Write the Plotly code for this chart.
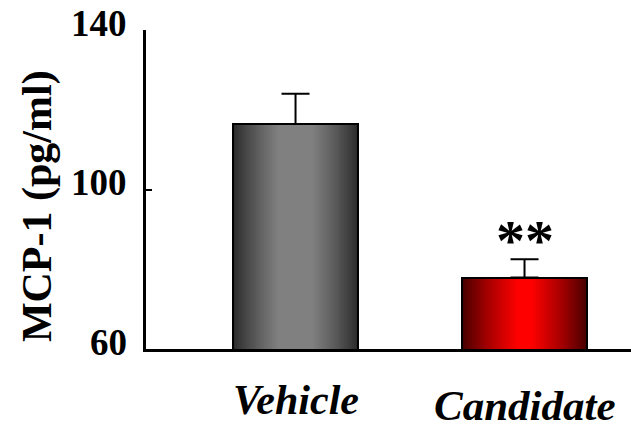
import plotly.graph_objects as go

categories = ["Vehicle", "Candidate"]
means = [116.4, 77.9]
errors = [7.6, 4.6]
y_ticks = [60, 100, 140]
y_label = "MCP-1 (pg/ml)"
significance = ["", "**"]

edge_colors = [(43, 43, 43), (70, 0, 0)]
center_colors = [(128, 128, 128), (255, 0, 0)]
plateau = [1.35, 1.1]
label_sizes = [42, 43]
label_y = [-0.16, -0.178]

BAR_W = 0.546
N = 32

fig = go.Figure()

def mix(a, b, t):
    return "rgb(%d,%d,%d)" % tuple(round(a[k] + (b[k] - a[k]) * t) for k in range(3))

for i in range(N):
    t = i / (N - 1)
    cols = []
    for j in range(2):
        tt = min(1.0, t * plateau[j]) ** 0.85
        cols.append(mix(edge_colors[j], center_colors[j], tt))
    fig.add_trace(go.Bar(
        x=categories, y=means,
        width=[BAR_W * (1 - i / N)] * 2,
        marker=dict(color=cols, line=dict(width=0)),
        showlegend=False, hoverinfo="skip",
    ))

fig.add_trace(go.Bar(
    x=categories, y=means, width=[BAR_W] * 2,
    marker=dict(color="rgba(0,0,0,0)", line=dict(color="black", width=2)),
    error_y=dict(type="data", symmetric=False, array=errors, arrayminus=[0, 0],
                 color="black", thickness=2, width=14),
    showlegend=False,
))

for j, c in enumerate(categories):
    fig.add_annotation(x=c, xref="x", y=label_y[j], yref="paper", text=c,
                       showarrow=False, yanchor="middle",
                       font=dict(family="Liberation Serif", size=label_sizes[j],
                                 color="black", weight="bold", style="italic"))
    if significance[j]:
        fig.add_annotation(x=c, xref="x", y=means[j] + errors[j], yref="y",
                           text=significance[j], showarrow=False, yanchor="bottom",
                           yshift=-16,
                           font=dict(family="Liberation Serif", size=58, color="black",
                                     weight="bold"))

for v in y_ticks:
    fig.add_annotation(x=0, xref="paper", xanchor="right", xshift=-17,
                       y=v, yref="y", yanchor="middle", yshift=7,
                       text=str(v), showarrow=False,
                       font=dict(family="Liberation Serif", size=37, color="black",
                                 weight="bold"))

fig.add_annotation(x=-0.2247, xref="paper", xanchor="center", y=0.448, yref="paper",
                   yanchor="middle", text=y_label, textangle=-90, showarrow=False,
                   font=dict(family="Liberation Serif", size=42, color="black",
                             weight="bold"))

fig.update_layout(
    width=631, height=428,
    margin=dict(l=146, r=0, t=30, b=79, autoexpand=False),
    paper_bgcolor="white", plot_bgcolor="white",
    barmode="overlay", bargap=0,
    xaxis=dict(range=[-0.653, 1.465], showline=True, linecolor="black", linewidth=3,
               showticklabels=False, ticks="", showgrid=False, zeroline=False,
               automargin=False),
    yaxis=dict(range=[60, 140], tickvals=y_ticks, showticklabels=False,
               showline=True, linecolor="black", linewidth=3, ticks="inside",
               ticklen=6, tickwidth=1.5, tickcolor="black", showgrid=False,
               zeroline=False, automargin=False),
)

fig.write_html("out.html", config={"displayModeBar": False},
               post_script="document.body.style.margin='0';")
